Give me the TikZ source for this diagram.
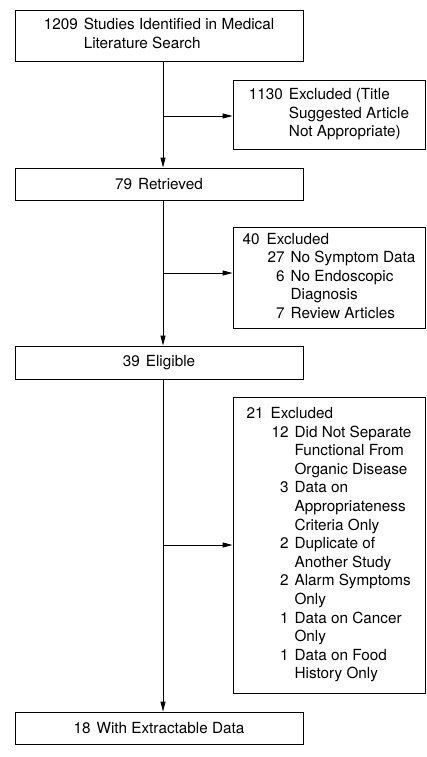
\documentclass[tikz,border=0pt]{standalone}
\usepackage{fontspec}
\setmainfont{TeX Gyre Heros}
\usetikzlibrary{arrows.meta,positioning}

\newcommand{\flowfont}{\fontsize{15.3}{18.6}\selectfont}

\begin{document}
\begin{tikzpicture}[x=1pt,y=-1pt,
  every node/.style={font=\flowfont},
  M/.style={draw,line width=0.9pt,inner sep=0pt,minimum width=288pt},
  X/.style={draw,line width=0.9pt,inner sep=0pt,minimum width=192pt},
  ar/.style={-{Triangle[length=10pt,width=5pt]},line width=0.9pt}
]
\useasboundingbox (0,0) rectangle (427,757);
\coordinate (spine) at (163,0);

% main stream
\node[M,minimum height=51pt](search) at (159,35.5)
  {\begin{tabular}{@{}r@{\hspace{6pt}}l@{}}
   1209 & Studies Identified in Medical\\
        & Literature Search
   \end{tabular}};
\node[M,minimum height=32pt](retr) at (159,184) {79\hspace{6pt}Retrieved};
\node[M,minimum height=33pt](elig) at (159,362.5) {39\hspace{6pt}Eligible};
\node[M,minimum height=32pt](data) at (159,728) {18\hspace{6pt}With Extractable Data};

% exclusions
\node[X,minimum height=69pt](ex1) at (329,114.5)
  {\begin{tabular}{@{}r@{\hspace{6pt}}l@{}}
   1130 & Excluded (Title\\
        & Suggested Article\\
        & Not Appropriate)
   \end{tabular}};
\node[X,minimum height=101pt](ex2) at (329,277.5)
  {\begin{tabular}{@{\hspace{25pt}}r@{\hspace{6pt}}l@{}}
   \multicolumn{2}{@{}l@{}}{40\hspace{7pt}Excluded}\\
   27 & No Symptom Data\\
   6  & No Endoscopic\\
      & Diagnosis\\
   7  & Review Articles
   \end{tabular}};
\node[X,minimum height=296pt](ex3) at (329,545)
  {\begin{tabular}{@{\hspace{25pt}}r@{\hspace{6pt}}l@{}}
   \multicolumn{2}{@{}l@{}}{21\hspace{7pt}Excluded}\\
   12 & Did Not Separate\\
      & Functional From\\
      & Organic Disease\\
   3  & Data on\\
      & Appropriateness\\
      & Criteria Only\\
   2  & Duplicate of\\
      & Another Study\\
   2  & Alarm Symptoms\\
      & Only\\
   1  & Data on Cancer\\
      & Only\\
   1  & Data on Food\\
      & History Only
   \end{tabular}};

\draw[ar](search.south -| spine)--(retr.north -| spine);
\draw[ar](retr.south -| spine)--(elig.north -| spine);
\draw[ar](elig.south -| spine)--(data.north -| spine);
\draw[ar]([yshift=-1.5pt]ex1.west -| spine)--([yshift=-1.5pt]ex1.west);
\draw[ar]([yshift=4.5pt]ex2.west -| spine)--([yshift=4.5pt]ex2.west);
\draw[ar](ex3.west -| spine)--(ex3.west);
\end{tikzpicture}
\end{document}
